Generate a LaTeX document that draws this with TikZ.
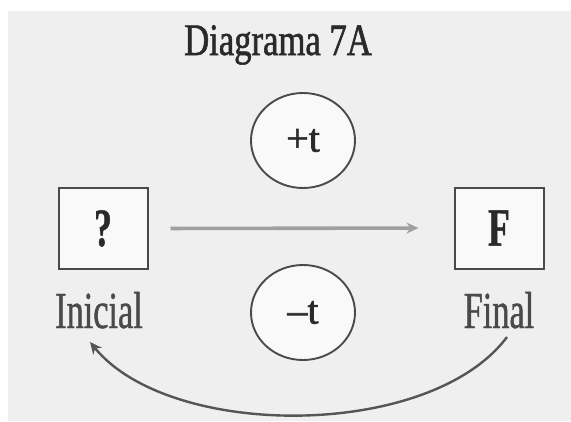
\documentclass[tikz,border=0pt]{standalone}
\usepackage{fontspec}
\usepackage{xcolor}
\usepackage{tikz}
\usetikzlibrary{arrows.meta,positioning,shapes.geometric}
\setmainfont{Liberation Serif}
\newfontfamily\titlefont[FakeStretch=0.77,FakeBold=1.2]{Liberation Serif}
\newfontfamily\labelfont[FakeStretch=0.66,FakeBold=0.8]{Liberation Serif}
\newfontfamily\signfont[FakeBold=1.5]{Liberation Serif}
\definecolor{bgpaper}{HTML}{EFEFEF}
\definecolor{ink}{HTML}{2A2A2A}

\begin{document}
\begin{tikzpicture}[x=1pt,y=-1pt,
  state/.style={draw=ink!85,line width=2pt,fill=white!60!bgpaper,minimum width=89pt,minimum height=81pt,
    inner sep=0pt,font=\labelfont\fontsize{54}{54}\selectfont\bfseries,text=ink},
  tdir/.style={ellipse,draw=ink!85,line width=1.9pt,fill=white!60!bgpaper,minimum width=104pt,minimum height=95pt,
    inner sep=0pt,font=\signfont\fontsize{40}{40}\selectfont,text=ink},
  lbl/.style={anchor=base,inner sep=0pt,font=\labelfont\fontsize{52}{52}\selectfont,text=ink!85},
  ar/.style={-{Stealth[length=12pt,width=11pt]}}]
% paper
\fill[white] (0,0) rectangle (571,421);
\fill[bgpaper] (8,11) rectangle (571,421);
\useasboundingbox (0,0) rectangle (571,421);
% title
\node[anchor=base,inner sep=0pt,font=\titlefont\fontsize{45}{45}\selectfont,text=ink] (title) at (278,55) {Diagrama 7A};
% states
\node[state] (ini) at (103,228.5) {?};
\node[state] (fin) at (499,228) {F};
\node[lbl] (inilbl) at (99,328) {Inicial};
\node[lbl] (finlbl) at (499,328) {Final};
% time direction
\node[tdir] (fwd) at (303,140.5) {+t};
\node[tdir] (bwd) at (303,312.5) {–t};
\draw[ar,gray!75,line width=3.6pt,shorten <=22pt,shorten >=35pt] (ini.east) -- (fin.west);
\coordinate (finfoot) at (507,337);
\coordinate (inifoot) at (90,342);
\draw[ar,ink!80,line width=2.4pt] (finfoot) .. controls (430,440) and (170,440) .. (inifoot);
\end{tikzpicture}
\end{document}
